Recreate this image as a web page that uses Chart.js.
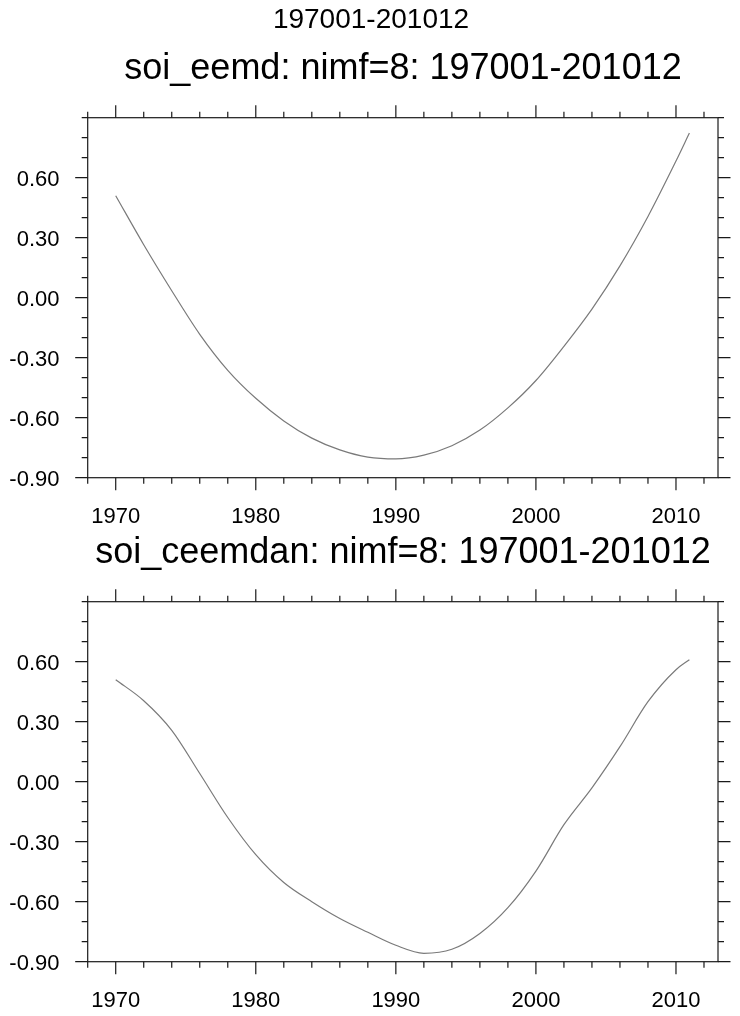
<!DOCTYPE html>
<html>
<head>
<meta charset="utf-8">
<script src="https://cdn.jsdelivr.net/npm/chart.js@4.4.0/dist/chart.umd.min.js"></script>
<style>
  body { margin: 0; background: #fff; width: 740px; height: 1016px; position: relative; overflow: hidden; }
  canvas { position: absolute; left: 0; }
</style>
</head>
<body>
<canvas id="c1" width="740" height="532" style="top:0"></canvas>
<canvas id="c2" width="740" height="532" style="top:484px"></canvas>
<script>
// values (time in years, monthly series 197001-201012)
var years = [1970, 1972, 1974, 1976, 1978, 1980, 1982, 1984, 1986, 1988, 1990,
  1992, 1994, 1996, 1998, 2000, 2002, 2004, 2006, 2008, 2010, 2010.958];
var eemdValues = [0.51, 0.265, 0.035, -0.183, -0.363, -0.503, -0.616, -0.702, -0.761, -0.797, -0.806,
  -0.787, -0.740, -0.662, -0.551, -0.414, -0.243, -0.057, 0.159, 0.406, 0.683, 0.823];
var ceemdanValues = [0.51, 0.405, 0.257, 0.041, -0.179, -0.365, -0.504, -0.600, -0.684, -0.753, -0.818,
  -0.858, -0.838, -0.759, -0.630, -0.447, -0.215, -0.031, 0.175, 0.400, 0.560, 0.61];

var xMajorTicks = [1970, 1980, 1990, 2000, 2010];
var xTickLabels = ["1970", "1980", "1990", "2000", "2010"];
var yMajorTicks = [-0.9, -0.6, -0.3, 0, 0.3, 0.6];
var yTickLabels = ["-0.90", "-0.60", "-0.30", "0.00", "0.30", "0.60"];

var mainTitle = "197001-201012";
var panelTitles = ["soi_eemd: nimf=8: 197001-201012", "soi_ceemdan: nimf=8: 197001-201012"];

var FONT = '"Liberation Sans", Arial, Helvetica, sans-serif';

// box, outward ticks on all four sides, labels and titles (NCL look)
var nclFrame = {
  id: "nclFrame",
  afterDraw: function (chart, args, opts) {
    var ctx = chart.ctx, a = chart.chartArea;
    var xs = chart.scales.x, ys = chart.scales.y;
    ctx.save();
    ctx.strokeStyle = "#1a1a1a";
    ctx.lineWidth = 1.2;
    ctx.strokeRect(a.left, a.top, a.right - a.left, a.bottom - a.top);

    ctx.beginPath();
    for (var t = 1968; t <= 2013; t += 2) {
      var len = xMajorTicks.indexOf(t) >= 0 ? 12.5 : 6;
      var px = xs.getPixelForValue(t);
      ctx.moveTo(px, a.bottom); ctx.lineTo(px, a.bottom + len);
      ctx.moveTo(px, a.top); ctx.lineTo(px, a.top - len);
    }
    for (var i = -9; i <= 9; i++) {
      var v = i / 10;
      var major = yMajorTicks.some(function (m) { return Math.abs(m - v) < 1e-6; });
      var l = major ? 12.5 : 6;
      var py = ys.getPixelForValue(v);
      ctx.moveTo(a.left, py); ctx.lineTo(a.left - l, py);
      ctx.moveTo(a.right, py); ctx.lineTo(a.right + l, py);
    }
    ctx.stroke();

    ctx.fillStyle = "#000";
    ctx.font = "22px " + FONT;
    ctx.textBaseline = "alphabetic";
    ctx.textAlign = "center";
    xMajorTicks.forEach(function (t, k) {
      ctx.fillText(xTickLabels[k], xs.getPixelForValue(t), a.bottom + 45.6);
    });
    ctx.textAlign = "right";
    yMajorTicks.forEach(function (v, k) {
      ctx.fillText(yTickLabels[k], 59.5, ys.getPixelForValue(v) + 8);
    });

    ctx.textAlign = "center";
    ctx.font = "36px " + FONT;
    ctx.fillText(opts.title, 403, 79);
    if (opts.showMain) {
      ctx.font = "28px " + FONT;
      ctx.fillText(mainTitle, 371, 28);
    }
    ctx.restore();
  }
};

function makePanel(id, values, title, showMain) {
  var pts = years.map(function (y, k) { return { x: y, y: values[k] }; });
  return new Chart(document.getElementById(id).getContext("2d"), {
    type: "line",
    data: {
      datasets: [{
        data: pts,
        borderColor: "#7a7a7a",
        borderWidth: 1.2,
        pointRadius: 0,
        fill: false,
        cubicInterpolationMode: "monotone"
      }]
    },
    options: {
      responsive: false,
      animation: false,
      layout: { padding: { left: 87.7, top: 117.7, right: 22, bottom: 54.3 } },
      scales: {
        x: { type: "linear", min: 1968, max: 2013, display: false },
        y: { type: "linear", min: -0.9, max: 0.9, display: false }
      },
      plugins: {
        legend: { display: false },
        tooltip: { enabled: false },
        nclFrame: { title: title, showMain: showMain }
      }
    },
    plugins: [nclFrame]
  });
}

makePanel("c1", eemdValues, panelTitles[0], true);
makePanel("c2", ceemdanValues, panelTitles[1], false);
</script>
</body>
</html>
